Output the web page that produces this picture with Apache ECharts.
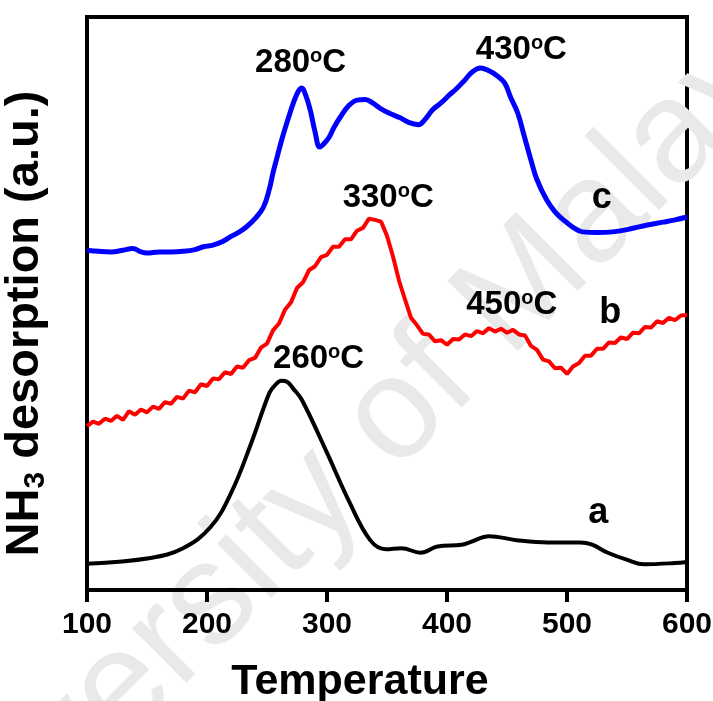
<!DOCTYPE html>
<html>
<head>
<meta charset="utf-8">
<script src="https://cdn.jsdelivr.net/npm/echarts@6/dist/echarts.min.js"></script>
<style>
  html, body { margin: 0; padding: 0; background: #fff; }
  #tpd_chart { width: 713px; height: 701px; }
</style>
</head>
<body>
<div id="tpd_chart"></div>
<script>
// curve a (black)
const aTemp = [100, 153, 180, 203, 220, 237, 252, 257, 262, 267, 272, 279, 299, 319, 336, 349, 362, 378, 392, 412, 420, 435, 458, 484, 511, 521, 534, 551, 564, 590, 600];
const aSignal = [4.6, 5.6, 7.3, 11.0, 16.9, 25.7, 34.4, 35.8, 36.5, 36.3, 35.1, 33.2, 24.4, 15.2, 8.7, 7.1, 7.3, 6.5, 7.6, 7.9, 8.4, 9.4, 8.7, 8.3, 8.3, 7.9, 6.5, 5.2, 4.5, 4.7, 4.9];

// curve b (red, noisy)
const bTemp = [100, 105, 110, 115, 120, 125, 130, 135, 140, 145, 150, 155, 160, 165, 170, 175, 180, 185, 190, 195,
  200, 205, 210, 215, 220, 225, 230, 235, 240, 245, 250, 255, 260, 265, 270, 275, 280, 285, 290, 295,
  300, 305, 310, 315, 320, 325, 330, 335, 340, 345, 350, 355, 360, 365, 370, 375, 380, 385, 390, 395,
  400, 405, 410, 415, 420, 425, 430, 435, 440, 445, 450, 455, 460, 465, 470, 475, 480, 485, 490, 495,
  500, 505, 510, 515, 520, 525, 530, 535, 540, 545, 550, 555, 560, 565, 570, 575, 580, 585, 590, 595, 600];
const bSignal = [28.6, 29.4, 29.0, 29.9, 29.5, 30.4, 29.7, 31.2, 30.6, 31.5, 31.0, 32.0, 31.6, 32.8, 32.5, 33.7, 33.4, 34.8, 34.5, 35.9,
  35.6, 36.9, 36.8, 38.0, 37.7, 39.0, 38.8, 40.1, 40.5, 42.3, 43.0, 45.3, 46.5, 48.9, 50.2, 52.7, 53.7, 55.8, 56.5, 58.1,
  58.5, 59.9, 59.9, 61.2, 61.2, 62.7, 63.2, 64.8, 64.6, 64.3, 61.8, 58.2, 54.0, 50.7, 47.5, 46.2, 44.7, 44.6, 43.4, 43.6,
  42.8, 43.8, 43.7, 44.6, 44.3, 45.2, 44.8, 45.7, 45.1, 45.6, 44.9, 45.4, 44.6, 44.4, 42.6, 41.9, 40.2, 39.9, 38.7, 38.8,
  37.7, 39.0, 39.6, 40.9, 40.9, 42.1, 42.1, 43.2, 43.1, 44.1, 43.8, 44.9, 44.8, 45.9, 45.8, 46.9, 46.6, 47.5, 47.1, 47.9, 48.0];

// curve c (blue)
const cTemp = [100, 110, 120, 130, 138, 145, 150, 160, 170, 180, 190, 197, 205, 213, 220, 227, 233, 240, 247, 252,
  255, 259, 263, 268, 272, 276, 279, 282, 286, 290, 294, 298, 302, 306, 311, 318, 325, 332, 338, 344,
  352, 361, 368, 376, 382, 388, 395, 402, 407, 414, 421, 428, 435, 442, 448, 453, 459, 464, 470, 475,
  483, 490, 497, 505, 513, 525, 538, 550, 567, 580, 590, 600];
const cSignal = [59.3, 59.1, 59.0, 59.3, 59.6, 59.0, 58.8, 59.0, 59.0, 59.1, 59.4, 59.9, 60.2, 60.8, 61.7, 62.5, 63.4, 64.8, 66.8, 70.0,
  72.8, 76.0, 79.1, 82.5, 85.0, 87.0, 87.6, 86.5, 83.8, 80.0, 77.3, 78.0, 79.1, 80.8, 82.5, 84.5, 85.5, 85.6, 85.0, 84.1,
  83.2, 82.4, 81.6, 81.2, 82.2, 83.8, 85.0, 86.4, 87.3, 88.8, 90.4, 91.1, 90.6, 89.7, 88.5, 86.0, 83.2, 79.5, 75.0, 71.6,
  68.1, 66.0, 64.6, 63.3, 62.5, 62.4, 62.5, 62.9, 63.7, 64.2, 64.6, 65.1];

// peak annotations (text anchored in data units)
const peakText = ['280', '430', '330', '450', '260'];
const peakAtTemp = [278, 462, 351, 454, 293];
const peakAtSignal = [92.0, 94.2, 68.4, 49.7, 40.3];

const curveText = ['a', 'b', 'c'];
const curveAtTemp = [526, 536, 529];
const curveAtSignal = [13.4, 48.3, 68.4];

const xTicks = [100, 200, 300, 400, 500, 600];

const FONT = '"Liberation Sans", Arial, sans-serif';
const zip = (xs, ys) => xs.map((x, i) => [x, ys[i]]);

const myChart = echarts.init(document.getElementById('tpd_chart'));
const option = {
  animation: false,
  backgroundColor: '#fff',
  grid: {
    left: 87, right: 26, top: 17, bottom: 111,
    containLabel: false,
    outerBoundsMode: 'none',
    show: true, borderColor: '#000', borderWidth: 4
  },
  xAxis: {
    type: 'value',
    min: xTicks[0],
    max: xTicks[xTicks.length - 1],
    interval: 100,
    name: 'Temperature',
    nameLocation: 'middle',
    nameGap: 71,
    nameTextStyle: { fontFamily: FONT, fontSize: 43, fontWeight: 'bold', color: '#000', padding: [0, 54, 0, 0] },
    axisLine: { lineStyle: { color: '#000', width: 4 } },
    axisTick: { show: true, inside: false, length: 12, lineStyle: { color: '#000', width: 4 } },
    axisLabel: { fontFamily: FONT, fontSize: 30, fontWeight: 'bold', color: '#000', margin: 20 },
    splitLine: { show: false }
  },
  yAxis: {
    type: 'value',
    min: 0,
    max: 100,
    name: '{m|NH}{s|3}{m| desorption (a.u.)}',
    nameLocation: 'middle',
    nameRotate: 90,
    nameGap: 36,
    nameTextStyle: {
      padding: [0, 40, 0, 0],
      rich: {
        m: { fontFamily: FONT, fontSize: 47, fontWeight: 'bold', color: '#000' },
        s: { fontFamily: FONT, fontSize: 30, fontWeight: 'bold', color: '#000', verticalAlign: 'bottom', padding: [22, 0, 0, 0] }
      }
    },
    axisLine: { show: true, lineStyle: { color: '#000', width: 4 } },
    axisTick: { show: false },
    axisLabel: { show: false },
    splitLine: { show: false }
  },
  graphic: [{
    type: 'text',
    z: 0,
    x: -60, y: 975,
    rotation: Math.PI / 4,
    style: {
      text: 'University of Malaya',
      fontFamily: FONT,
      fontSize: 145,
      fill: '#e9e9e9',
      textAlign: 'left',
      textVerticalAlign: 'bottom'
    }
  }],
  series: [
    {
      name: 'a', type: 'line', data: zip(aTemp, aSignal),
      smooth: 0.4, showSymbol: false, z: 3,
      lineStyle: { color: '#000', width: 4 }
    },
    {
      name: 'b', type: 'line', data: zip(bTemp, bSignal),
      smooth: false, showSymbol: false, z: 3,
      lineStyle: { color: '#ff0000', width: 4 }
    },
    {
      name: 'c', type: 'line', data: zip(cTemp, cSignal),
      smooth: 0.4, showSymbol: false, z: 3,
      lineStyle: { color: '#0000ff', width: 5 }
    },
    {
      name: 'peaks', type: 'scatter', z: 4,
      data: peakText.map((t, i) => [peakAtTemp[i], peakAtSignal[i], t]),
      symbolSize: 0,
      silent: true,
      itemStyle: { opacity: 1 },
      label: {
        show: true, position: 'inside',
        formatter: p => '{n|' + p.data[2] + '}{o|o}{n|C}',
        rich: {
          n: { fontFamily: FONT, fontSize: 33, fontWeight: 'bold', color: '#000' },
          o: { fontFamily: FONT, fontSize: 20, fontWeight: 'bold', color: '#000', verticalAlign: 'top' }
        }
      }
    },
    {
      name: 'curves', type: 'scatter', z: 4,
      data: curveText.map((t, i) => [curveAtTemp[i], curveAtSignal[i], t]),
      symbolSize: 0,
      silent: true,
      itemStyle: { opacity: 1 },
      label: {
        show: true, position: 'inside',
        formatter: p => p.data[2],
        fontFamily: FONT, fontSize: 36, fontWeight: 'bold', color: '#000'
      }
    }
  ]
};
myChart.setOption(option);
</script>
</body>
</html>
